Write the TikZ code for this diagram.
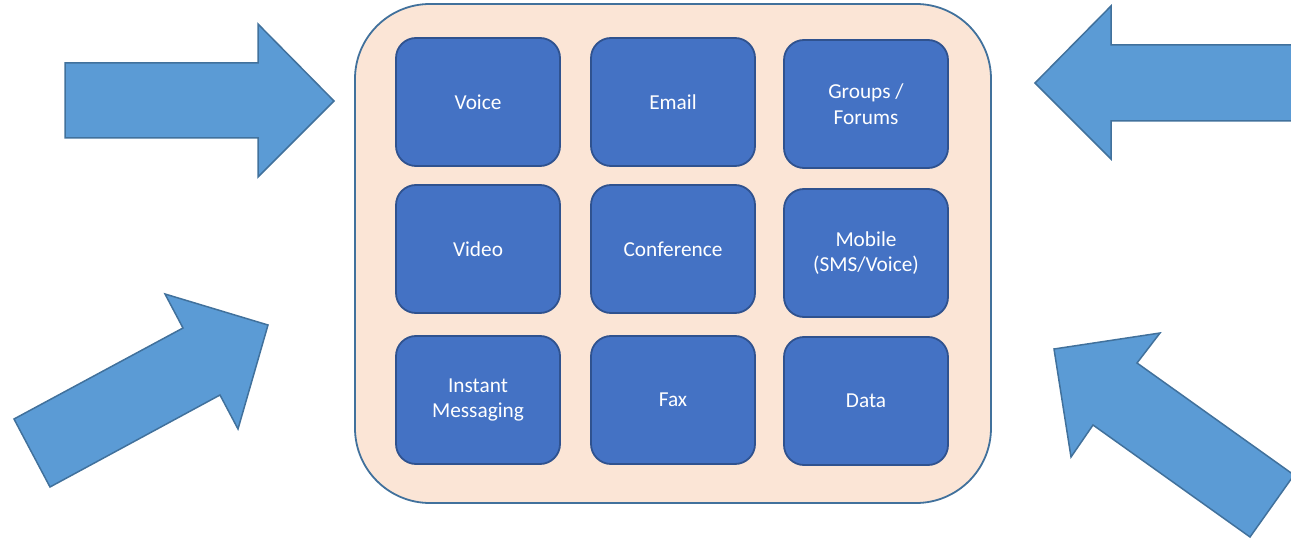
\documentclass[tikz,border=0pt]{standalone}
\usepackage{fontspec}
\setmainfont{Carlito}
\definecolor{arrowfill}{HTML}{5B9BD5}
\definecolor{arrowline}{HTML}{41719C}
\definecolor{panelfill}{HTML}{FBE5D6}
\definecolor{panelline}{HTML}{41719C}
\definecolor{boxfill}{HTML}{4472C4}
\definecolor{boxline}{HTML}{2F528F}
\tikzset{
  blockarrow/.style={fill=arrowfill, draw=arrowline, line width=1.5pt, line join=miter},
  panel/.style={fill=panelfill, draw=panelline, line width=1.8pt, rounded corners=75pt},
  tile/.style={rectangle, fill=boxfill, draw=boxline, line width=1.8pt, rounded corners=20pt,
    minimum width=164pt, minimum height=128pt, inner sep=0pt, text=white, align=center,
    font=\fontsize{21.3}{25.7}\selectfont},
}
\begin{document}
\begin{tikzpicture}[x=1pt,y=-1pt]
\useasboundingbox (0,0) rectangle (1291,540);
\clip (0,0) rectangle (1291,540);
% panel
\draw[panel] (355,4) rectangle (991,503);
% tiles
\node[tile] (voice) at (478,102) {Voice};
\node[tile] (email) at (673,102) {Email};
\node[tile] (groups) at (866,104) {Groups /\\Forums};
\node[tile] (video) at (478,249) {Video};
\node[tile] (conf) at (673,249) {Conference};
\node[tile] (mobile) at (866,253) {Mobile\\(SMS/Voice)};
\node[tile] (im) at (478,400) {Instant\\Messaging};
\node[tile] (fax) at (673,400) {Fax};
\node[tile] (data) at (866,401) {Data};
% block arrows
\draw[blockarrow] (65,63) -- (258,63) -- (258,24) -- (334,101) -- (258,177) -- (258,138) -- (65,138) -- cycle;
\draw[blockarrow] (1300,45) -- (1111,45) -- (1111,6) -- (1035,83) -- (1111,159) -- (1111,121) -- (1300,121) -- cycle;
\draw[blockarrow] (14,419) -- (183,328) -- (165,294) -- (268,325) -- (238,429) -- (220,395) -- (50,487) -- cycle;
\draw[blockarrow] (1294,475) -- (1137,363) -- (1160,333) -- (1054,349) -- (1071,457) -- (1093,425) -- (1250,537) -- cycle;
\end{tikzpicture}
\end{document}
